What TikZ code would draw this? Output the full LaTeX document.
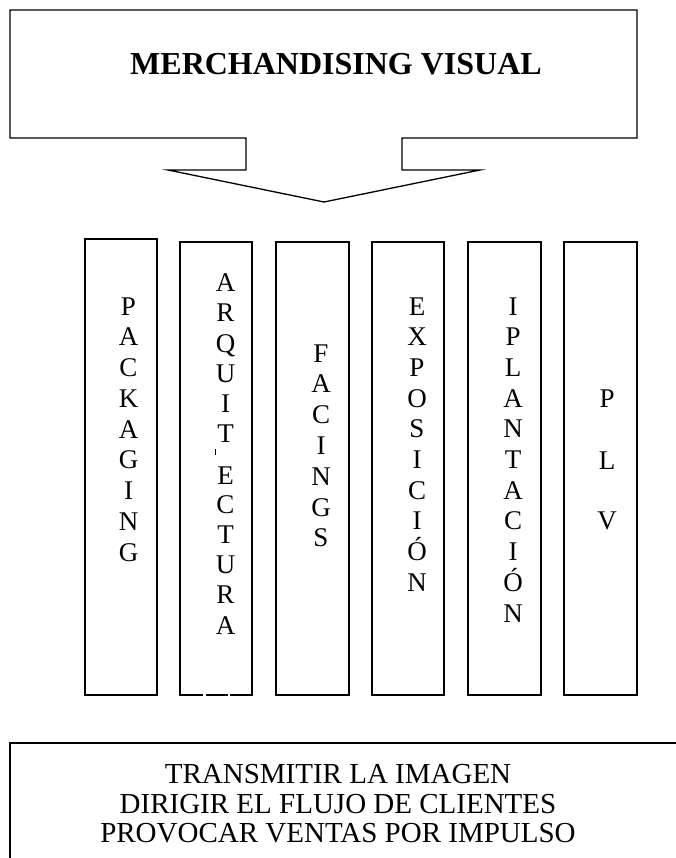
\documentclass[tikz,border=0pt]{standalone}
\usepackage{fontspec}
\setmainfont{Liberation Serif}
\begin{document}
\begin{tikzpicture}[x=1pt,y=-1pt,
  outline/.style={draw=black, line width=1.3pt, line join=miter},
  colbox/.style={outline, rectangle, inner sep=0pt},
  letter/.style={anchor=base, inner sep=0pt, font=\fontsize{27}{30}\selectfont},
  bottomtext/.style={anchor=base, inner sep=0pt, font=\fontsize{29}{30}\selectfont},
  titletext/.style={anchor=base, inner sep=0pt, font=\bfseries\fontsize{32}{36}\selectfont}]
\useasboundingbox (0,0) rectangle (676,858);

% callout box with down arrow
\coordinate (tl) at (10,10);
\coordinate (tr) at (637,10);
\coordinate (br) at (637,138);
\coordinate (sr) at (402,138);
\coordinate (srb) at (402,170);
\coordinate (hr) at (480,170);
\coordinate (tip) at (324,202);
\coordinate (hl) at (168,170);
\coordinate (slb) at (246,170);
\coordinate (sl) at (246,138);
\coordinate (bl) at (10,138);
\draw[outline] (tl) -- (tr) -- (br) -- (sr) -- (srb) -- (hr) -- (tip) -- (hl) -- (slb) -- (sl) -- (bl) -- cycle;
\node[titletext] (title) at (336,75) {MERCHANDISING VISUAL};

% columns
\node[colbox, minimum width=72pt, minimum height=456pt] (c1) at (121,467) {};
\node[colbox, minimum width=72pt, minimum height=453pt] (c2) at (216,468.5) {};
\node[colbox, minimum width=73pt, minimum height=453pt] (c3) at (312.5,468.5) {};
\node[colbox, minimum width=72pt, minimum height=453pt] (c4) at (408,468.5) {};
\node[colbox, minimum width=73pt, minimum height=453pt] (c5) at (504.5,468.5) {};
\node[colbox, minimum width=73pt, minimum height=453pt] (c6) at (600.5,468.5) {};
\draw[white, line width=1.8pt] (203,695) -- (205.5,695);
\draw[white, line width=1.8pt] (228,695) -- (230,695);

% column letters
\foreach \l [count=\i from 0] in {P,A,C,K,A,G,I,N,G}
  \node[letter] (pk\i) at (128.5,315+30.75*\i) {\l};
\foreach \l/\y [count=\i] in {A/291,R/321,Q/352,U/382,I/412,T/442,E/484,C/513,T/543,U/573,R/603,A/634}
  \node[letter] (aq\i) at (225.5,\y) {\l};
\draw[line width=0.9pt] (215,449) -- (215,455);
\foreach \l [count=\i from 0] in {F,A,C,I,N,G,S}
  \node[letter] (fa\i) at (321,362+30.8*\i) {\l};
\foreach \l [count=\i from 0] in {E,X,P,O,S,I,C,I,Ó,N}
  \node[letter] (ex\i) at (417,315+30.67*\i) {\l};
\foreach \l [count=\i from 0] in {I,P,L,A,N,T,A,C,I,Ó,N}
  \node[letter] (ip\i) at (513,315+30.7*\i) {\l};
\foreach \l/\y [count=\i] in {P/407,L/469,V/529}
  \node[letter] (pl\i) at (607,\y) {\l};

% bottom box (extends past the page)
\coordinate (bbr) at (700,743);
\coordinate (bbl) at (10,743);
\coordinate (bbb) at (10,880);
\draw[outline] (bbr) -- (bbl) -- (bbb);
\node[bottomtext] (b1) at (338,783) {TRANSMITIR LA IMAGEN};
\node[bottomtext] (b2) at (338,813) {DIRIGIR EL FLUJO DE CLIENTES};
\node[bottomtext] (b3) at (338,842) {PROVOCAR VENTAS POR IMPULSO};
\end{tikzpicture}
\end{document}
